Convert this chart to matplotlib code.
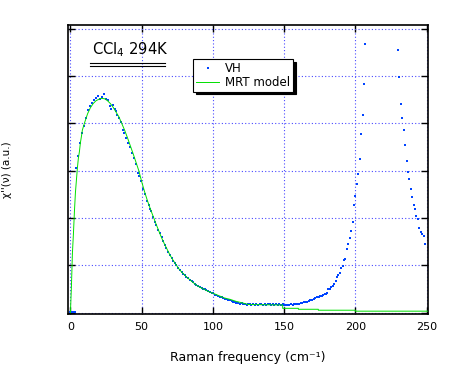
import matplotlib
matplotlib.use("Agg")
import matplotlib.pyplot as plt

plt.rcParams['font.family'] = ['DejaVu Sans']
plt.rcParams['mathtext.default'] = 'regular'

# VH depolarised Raman spectrum
vh_x = [0.0, 1.0, 2.0, 3.0,
        4.2, 5.6, 7.0, 8.4, 9.8, 11.2, 12.6, 14.0, 15.4, 16.8, 18.2, 19.6,
        21.0, 22.5, 23.9, 25.3, 26.7, 28.1, 28.8, 30.2, 31.6, 32.3, 33.0,
        34.4, 35.8, 37.2, 37.9, 39.3, 40.7, 42.1, 43.5, 44.9, 46.3, 47.7,
        48.4, 49.8, 51.2, 52.6, 54.0, 54.9, 56.1, 56.8, 58.2, 59.2, 60.3,
        61.7, 62.7, 64.1, 65.0, 66.4, 67.4, 68.7, 69.7, 71.1, 72.0, 73.4,
        74.4, 75.8, 76.7, 78.1, 79.0, 80.4, 81.4, 82.8, 83.7, 85.1, 86.0,
        87.4, 88.4, 89.8, 90.7, 92.1, 93.0, 94.4, 95.4, 96.8, 97.7, 99.1,
        100.0, 101.4, 102.4, 103.8, 104.7, 106.1, 107.0, 108.4, 109.4,
        110.8, 111.8, 113.2, 114.1, 115.5, 116.5, 117.9, 118.8, 120.2,
        121.2, 122.5, 123.6, 124.8, 125.9, 127.1, 128.2, 129.4, 130.5,
        131.7, 132.8, 134.0, 135.2, 136.3, 137.5, 138.6, 139.8, 140.9,
        142.1, 143.2, 144.4, 145.5, 146.7, 147.8, 149.0, 150.1, 151.3,
        152.4, 153.6, 154.7, 155.9, 157.0, 158.2, 159.3, 160.5, 161.6,
        162.8, 163.9, 165.1, 166.2, 167.4, 168.5, 169.7, 170.8, 172.0,
        173.1, 174.3, 175.4, 176.6, 177.5, 178.9, 179.6, 180.3, 181.0,
        182.4, 183.1, 184.5, 185.2, 186.6, 187.4, 188.1, 189.5, 190.2,
        191.6, 192.3, 193.0, 194.4, 195.1, 196.5, 197.2, 198.6, 199.3,
        200.0, 201.4, 202.1, 203.5, 204.2, 205.6, 206.3, 207.0,
        230.1, 230.8, 232.2, 232.9, 234.3, 235.1, 236.5, 237.2, 237.9,
        239.3, 240.0, 241.4, 242.1, 242.8, 244.2, 244.9, 246.3, 247.0,
        248.4, 249.1]
vh_y = [0.02, 0.02, 0.02, 0.02,
        3.05, 3.32, 3.58, 3.80, 3.95, 4.12, 4.29, 4.37, 4.44, 4.49, 4.53, 4.57,
        4.52, 4.55, 4.63, 4.52, 4.50, 4.37, 4.31, 4.38, 4.30, 4.26, 4.18,
        4.12, 4.03, 3.87, 3.79, 3.70, 3.59, 3.51, 3.38, 3.27, 3.15, 2.96,
        2.89, 2.78, 2.62, 2.50, 2.36, 2.27, 2.19, 2.15, 2.03, 1.91, 1.85,
        1.75, 1.68, 1.59, 1.51, 1.43, 1.36, 1.28, 1.22, 1.15, 1.10, 1.05,
        1.00, 0.94, 0.89, 0.86, 0.82, 0.79, 0.76, 0.73, 0.69, 0.66, 0.64,
        0.61, 0.58, 0.56, 0.54, 0.52, 0.50, 0.49, 0.47, 0.45, 0.44, 0.42,
        0.42, 0.38, 0.37, 0.35, 0.33, 0.33, 0.31, 0.29, 0.29,
        0.27, 0.26, 0.24, 0.23, 0.23, 0.21, 0.21, 0.19, 0.20,
        0.18, 0.19, 0.17, 0.19, 0.18, 0.17, 0.19, 0.16, 0.18,
        0.17, 0.19, 0.18, 0.16, 0.18, 0.17, 0.19, 0.18, 0.17,
        0.19, 0.17, 0.18, 0.16, 0.18, 0.17, 0.19, 0.17, 0.15,
        0.17, 0.16, 0.18, 0.17, 0.19, 0.18, 0.19, 0.18, 0.21,
        0.20, 0.22, 0.23, 0.22, 0.25, 0.27, 0.26, 0.29, 0.30,
        0.33, 0.32, 0.35, 0.34, 0.37, 0.39, 0.40, 0.41, 0.50,
        0.50, 0.54, 0.56, 0.60, 0.67, 0.75, 0.79, 0.84, 0.94,
        0.99, 1.11, 1.13, 1.34, 1.45, 1.58, 1.72, 1.91, 2.27,
        2.46, 2.72, 2.93, 3.25, 3.78, 4.18, 4.83, 5.68,
        5.55, 4.98, 4.41, 4.11, 3.86, 3.54, 3.21, 2.97, 2.82,
        2.61, 2.44, 2.27, 2.19, 2.04, 1.98, 1.79, 1.70, 1.66,
        1.62, 1.45]

# MRT model curve
mrt_x = [0.0, 0.7, 1.4, 2.1, 2.8, 3.5, 4.2, 4.9, 5.6, 6.3, 7.0, 7.7, 8.4,
         10, 12, 14, 16, 18, 20, 22, 24, 26, 28, 30, 32, 34, 36, 38, 40,
         42, 44, 46, 48, 50, 52, 54, 56, 58, 60, 62, 64, 66, 68, 70, 72,
         74, 76, 78, 80, 82, 84, 86, 88, 90, 92, 94, 96, 98, 100, 104,
         108, 112, 116, 120, 125, 149, 149, 160, 160, 174, 174, 200, 200, 251]
mrt_y = [0.0, 0.55, 1.26, 1.66, 2.13, 2.53, 2.80, 3.06, 3.27, 3.40, 3.59,
         3.72, 3.86, 4.02, 4.20, 4.33, 4.42, 4.48, 4.51, 4.53, 4.52, 4.48,
         4.42, 4.34, 4.24, 4.14, 4.00, 3.86, 3.70, 3.53, 3.36, 3.18, 3.00,
         2.77, 2.56, 2.37, 2.20, 2.04, 1.88, 1.73, 1.58, 1.45, 1.33, 1.21,
         1.11, 1.02, 0.93, 0.86, 0.80, 0.74, 0.69, 0.64, 0.59, 0.55, 0.52,
         0.49, 0.46, 0.43, 0.41, 0.36, 0.31, 0.28, 0.24, 0.21, 0.17, 0.16,
         0.09, 0.09, 0.07, 0.07, 0.05, 0.05, 0.03, 0.03]

x_ticks = [0, 50, 100, 150, 200, 250]
y_ticks = [0, 1, 2, 3, 4, 5, 6]

fig = plt.figure(figsize=(4.54, 3.69), dpi=100)
ax = fig.add_axes([68 / 454, 1 - 314 / 369, 360 / 454, 289 / 369])

ax.plot(vh_x, vh_y, 's', color='#0044ff', markersize=2.1, markeredgewidth=0,
        label='VH', zorder=3)
ax.plot(mrt_x, mrt_y, '-', color='#00e000', linewidth=0.7,
        label='MRT model', zorder=4)

ax.set_xlim(-1.7, 251)
ax.set_ylim(-0.03, 6.08)
ax.set_xticks(x_ticks)
ax.set_yticks(y_ticks)
ax.set_yticklabels([])
ax.grid(True, color='#4a4aff', linestyle=(0, (1, 2)), linewidth=0.8)
ax.set_axisbelow(True)
ax.tick_params(direction='in', length=5, width=1, top=True, right=True,
               labelsize=8, pad=5.5)
for sp in ax.spines.values():
    sp.set_linewidth(1.2)

ax.set_xlabel('Raman frequency (cm⁻¹)', fontsize=9)
ax.xaxis.set_label_coords(0.5, -0.128)
ax.set_ylabel("χ''(ν) (a.u.)", fontsize=7.5)
ax.yaxis.set_label_coords(-0.155, 0.5)

# sample label with double underline
ax.text(0.066, 0.913, 'CCl$_4$ 294K', transform=ax.transAxes, fontsize=10.6,
        ha='left', va='center')
ax.plot([0.061, 0.269], [0.8675, 0.8675], color='black', linewidth=0.8,
        transform=ax.transAxes, clip_on=False)
ax.plot([0.061, 0.269], [0.857, 0.857], color='black', linewidth=0.8,
        transform=ax.transAxes, clip_on=False)

leg = ax.legend(loc='upper left', bbox_to_anchor=(0.347, 0.882),
                borderaxespad=0, fontsize=8.5, numpoints=1, markerscale=1.0,
                handlelength=2.0, handletextpad=0.5, labelspacing=0.05,
                borderpad=0.25, fancybox=False, framealpha=1,
                edgecolor='black', shadow={'color': 'black', 'alpha': 1})
leg.get_frame().set_linewidth(0.8)

fig.savefig('out.png', dpi=100)
